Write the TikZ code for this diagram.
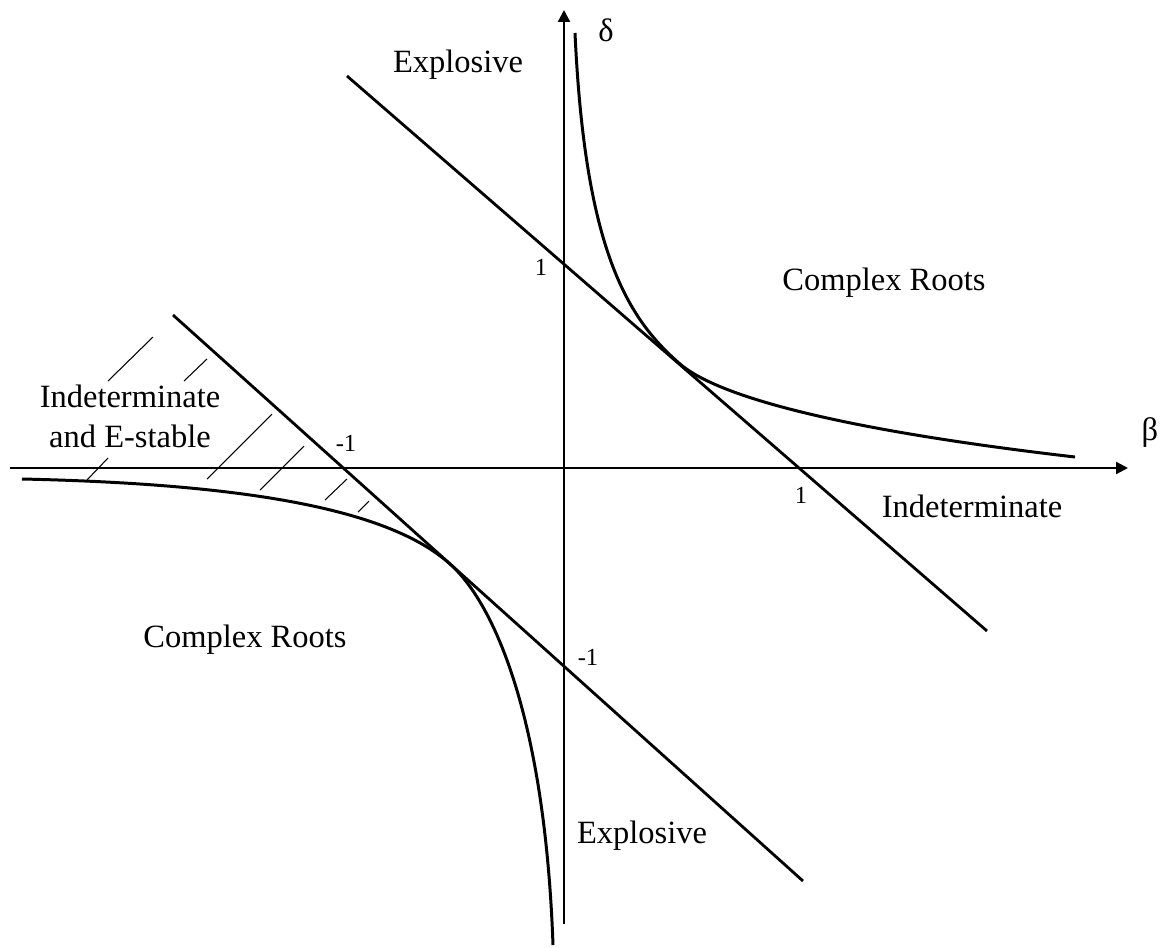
\documentclass[tikz,border=0pt]{standalone}
\usepackage{fontspec}
\setmainfont{Liberation Serif}
\usetikzlibrary{arrows.meta}

\begin{document}
\begin{tikzpicture}[
  x=0.02cm, y=-0.02cm, >={Triangle[length=6.8pt,width=6.8pt]},
  axis/.style={->, line width=1.3pt},
  bound/.style={line width=1.6pt},
  curve/.style={line width=1.7pt},
  hatch/.style={line width=0.6pt},
  lbl/.style={font=\fontsize{18.5}{22.5}\selectfont, inner sep=0pt},
  num/.style={font=\fontsize{14}{17}\selectfont, inner sep=0pt},
]
  \useasboundingbox (0,0) rectangle (1163,947);

  \coordinate (bl) at (10,468);
  \coordinate (br) at (1128,468);
  \coordinate (db) at (564,924);
  \coordinate (dt) at (564,10);
  \coordinate (up1) at (347,76);
  \coordinate (up2) at (987,631);
  \coordinate (lo1) at (173,315);
  \coordinate (lo2) at (803,881);
  \coordinate (tup) at (680,364);
  \coordinate (tlo) at (450,564);

  \draw[axis] (bl) -- (br);
  \draw[axis] (db) -- (dt);
  \draw[bound] (up1) -- (up2);
  \draw[bound] (lo1) -- (lo2);

  \draw[curve] (575,33) .. controls (585,250) and (627,318) .. (tup)
    .. controls (715,394) and (825,428) .. (1075,457);
  \draw[curve] (22,479) .. controls (250,484) and (390,510) .. (tlo)
    .. controls (495,604) and (545,720) .. (553,945);

  \foreach \xa/\ya/\xb/\yb in {108/381/153/337, 184/381/207/359, 87/480/108/458,
      207/479/272/414, 260/490/304/446, 325/500/347/479, 358/512/369/501}
    \draw[hatch] (\xa,\ya) -- (\xb,\yb);

  \node[lbl, anchor=base] (expl1) at (458,72) {Explosive};
  \node[lbl, anchor=base] (expl2) at (642,843) {Explosive};
  \node[lbl, anchor=base] (cplx1) at (884,290) {Complex Roots};
  \node[lbl, anchor=base] (cplx2) at (245,647) {Complex Roots};
  \node[lbl, anchor=base] (ind1) at (972,517) {Indeterminate};
  \node[lbl, anchor=base] (ind2) at (130,407) {Indeterminate};
  \node[lbl, anchor=base] (estab) at (130,447) {and E-stable};

  \node[num] (d1) at (541,267) {1};
  \node[num] (dm1) at (588,657) {-1};
  \node[num] (b1) at (801,495) {1};
  \node[num] (bm1) at (346,443) {-1};
  \node[lbl] (delta) at (606,30) {δ};
  \node[lbl] (beta) at (1150,433) {β};
\end{tikzpicture}
\end{document}
